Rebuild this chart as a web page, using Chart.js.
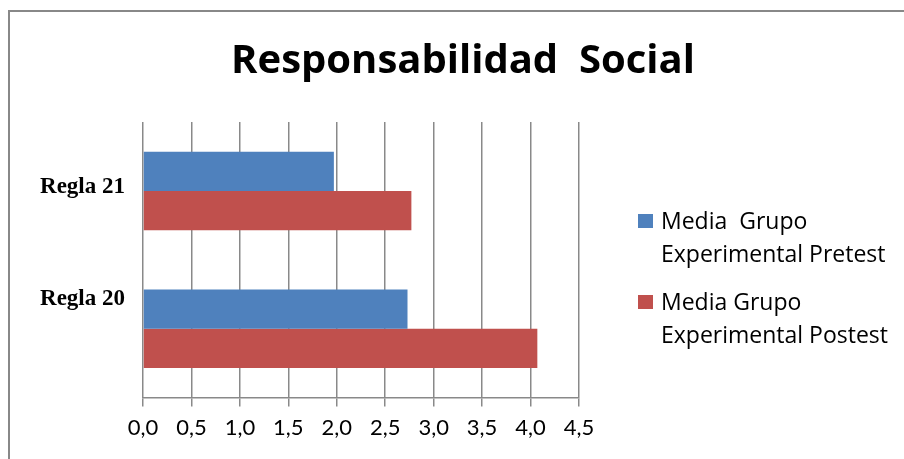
<!DOCTYPE html>
<html>
<head>
<meta charset="utf-8">
<script src="https://cdn.jsdelivr.net/npm/chart.js@4.4.1/dist/chart.umd.min.js"></script>
<style>
    html, body { margin: 0; padding: 0; background: #fff; }
    #wrap { width: 904px; height: 459px; position: relative; }
</style>
</head>
<body>
<div id="wrap"><canvas id="chart"></canvas></div>
<script>
// --- Data ---
const chartTitle = 'Responsabilidad  Social';
const categories = ['Regla 20', 'Regla 21'];
const pretestValues = [2.73, 1.97];
const postestValues = [4.07, 2.77];
const seriesLabels = [
    ['Media  Grupo', 'Experimental Pretest'],
    ['Media Grupo', 'Experimental Postest']
];
const seriesColors = ['#4F81BD', '#C0504D'];
const xMin = 0;
const xMax = 4.5;
const xStep = 0.5;

// category label nudges (labels sit a bit above their bars in the original)
const labelNudge = [-24, 2];

const gridColor = '#898989';

// --- Extra drawing: frame, title, category labels, legend ---
const decorations = {
    id: 'decorations',
    beforeDraw(chart) {
        const ctx = chart.ctx;
        ctx.save();
        ctx.fillStyle = '#fff';
        ctx.fillRect(0, 0, chart.width, chart.height);
        ctx.strokeStyle = '#888';
        ctx.lineWidth = 2;
        ctx.strokeRect(9, 11, chart.width + 20, chart.height + 20);
        ctx.restore();
    },
    afterDraw(chart) {
        const ctx = chart.ctx;
        const yScale = chart.scales.y;
        ctx.save();

        // title
        ctx.fillStyle = '#000';
        ctx.font = 'bold 40px "Open Sans"';
        ctx.textAlign = 'center';
        ctx.textBaseline = 'alphabetic';
        ctx.fillText(chartTitle, 463, 73);

        // category labels
        ctx.font = 'bold 23px "Liberation Serif"';
        ctx.textAlign = 'right';
        categories.forEach((cat, i) => {
            const y = yScale.getPixelForTick(i);
            ctx.fillText(cat, 125, y + labelNudge[i]);
        });

        // legend
        ctx.font = '23px "Open Sans"';
        ctx.textAlign = 'left';
        chart.data.datasets.forEach((ds, i) => {
            const top = 214 + i * 81;
            ctx.fillStyle = ds.backgroundColor;
            ctx.fillRect(638, top, 15, 14);
            ctx.fillStyle = '#000';
            seriesLabels[i].forEach((line, j) => {
                ctx.fillText(line, 661, top + 15 + j * 33);
            });
        });
        ctx.restore();
    }
};

function drawChart() {
    new Chart(document.getElementById('chart'), {
        type: 'bar',
        data: {
            labels: categories,
            datasets: [{
                label: seriesLabels[0].join(' '),
                data: pretestValues,
                backgroundColor: seriesColors[0]
            }, {
                label: seriesLabels[1].join(' '),
                data: postestValues,
                backgroundColor: seriesColors[1]
            }]
        },
        options: {
            indexAxis: 'y',
            responsive: true,
            maintainAspectRatio: false,
            animation: false,
            layout: {
                padding: { top: 122, left: 143, right: 325, bottom: 10 }
            },
            datasets: {
                bar: {
                    categoryPercentage: 0.57,
                    barPercentage: 1.0
                }
            },
            plugins: {
                legend: { display: false },
                title: { display: false },
                tooltip: { enabled: false }
            },
            scales: {
                x: {
                    min: xMin,
                    max: xMax,
                    ticks: {
                        stepSize: xStep,
                        color: '#000',
                        padding: 8,
                        font: { family: 'Lato', size: 22 },
                        callback: v => v.toFixed(1).replace('.', ',')
                    },
                    grid: {
                        color: gridColor,
                        lineWidth: 1.5,
                        tickLength: 9
                    },
                    border: { color: gridColor, width: 1.5 }
                },
                y: {
                    display: false,
                    reverse: true
                }
            }
        },
        plugins: [decorations]
    });
}

Promise.all([
    document.fonts.load('22px Lato'),
    document.fonts.load('23px "Open Sans"'),
    document.fonts.load('bold 40px "Open Sans"'),
    document.fonts.load('bold 23px "Liberation Serif"')
]).then(drawChart, drawChart);
</script>
</body>
</html>
